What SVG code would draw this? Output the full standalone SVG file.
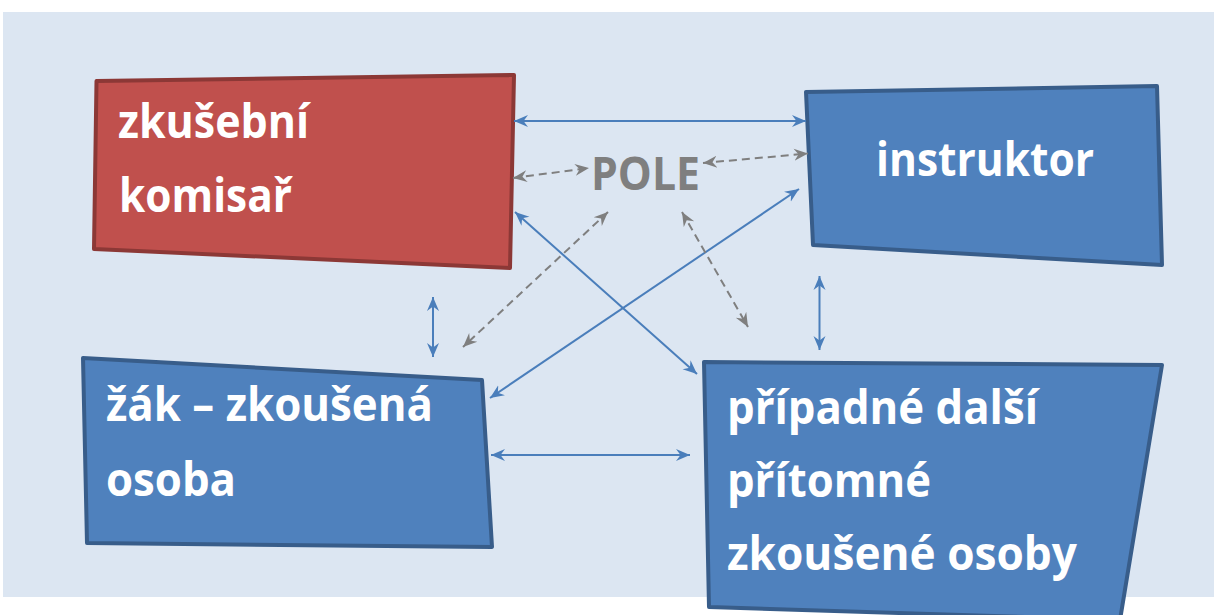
<svg xmlns="http://www.w3.org/2000/svg" width="1214" height="615" viewBox="0 0 1214 615">
<defs>
<style>
.lbl{font-family:"Open Sans","Noto Sans","Liberation Sans",sans-serif;font-weight:bold;font-size:46px;fill:#FFFFFF}
.pole{font-family:"Open Sans","Noto Sans","Liberation Sans",sans-serif;font-weight:bold;font-size:46px;fill:#7F7F7F}
.red{fill:#C0504D;stroke:#8C3836;stroke-width:4;stroke-linejoin:round}
.blue{fill:#4F81BD;stroke:#385D8A;stroke-width:4;stroke-linejoin:round}
.cb{stroke:#4A7EBB;stroke-width:2;fill:none;marker-start:url(#ab);marker-end:url(#ab)}
.cg{stroke:#7F7F7F;stroke-width:2;fill:none;stroke-dasharray:8 5;marker-start:url(#ag);marker-end:url(#ag)}
</style>
<marker id="ab" viewBox="-14 -7 15 14" refX="0" refY="0" markerWidth="15" markerHeight="14" markerUnits="userSpaceOnUse" orient="auto-start-reverse">
<path d="M0,0 L-14,-6 L-9.5,0 L-14,6 Z" fill="#4A7EBB"/>
</marker>
<marker id="ag" viewBox="-14 -7 15 14" refX="0" refY="0" markerWidth="15" markerHeight="14" markerUnits="userSpaceOnUse" orient="auto-start-reverse">
<path d="M0,0 L-14,-6 L-9.5,0 L-14,6 Z" fill="#7F7F7F"/>
</marker>
</defs>
<rect x="3" y="12" width="1211" height="585" fill="#DCE6F2"/>
<g id="node-komisar">
<polygon class="red" points="96.5,81 514,75 510,268 94,249"/>
<text class="lbl" x="118" y="138" textLength="191" lengthAdjust="spacingAndGlyphs">zkušební</text>
<text class="lbl" x="119" y="212" textLength="173" lengthAdjust="spacingAndGlyphs">komisař</text>
</g>
<g id="node-instruktor">
<polygon class="blue" points="806,92 1157,86 1162,265 813,245"/>
<text class="lbl" x="876" y="176" textLength="218" lengthAdjust="spacingAndGlyphs">instruktor</text>
</g>
<g id="node-zak">
<polygon class="blue" points="83,358 482,380 492,547 87,543"/>
<text class="lbl" x="106" y="421" textLength="327" lengthAdjust="spacingAndGlyphs">žák – zkoušená</text>
<text class="lbl" x="106" y="496" textLength="130" lengthAdjust="spacingAndGlyphs">osoba</text>
</g>
<g id="node-dalsi">
<polygon class="blue" points="704,362 1162,365 1120,620 709,607"/>
<text class="lbl" x="727" y="424" textLength="311" lengthAdjust="spacingAndGlyphs">případné další</text>
<text class="lbl" x="727" y="497" textLength="204" lengthAdjust="spacingAndGlyphs">přítomné</text>
<text class="lbl" x="727" y="570" textLength="350" lengthAdjust="spacingAndGlyphs">zkoušené osoby</text>
</g>
<g id="node-pole">
<text class="pole" x="591" y="190" textLength="109" lengthAdjust="spacingAndGlyphs">POLE</text>
</g>
<g id="connectors">
<line class="cb" x1="514" y1="121" x2="806" y2="121"/>
<line class="cb" x1="515" y1="212" x2="697" y2="374"/>
<line class="cb" x1="490" y1="398" x2="799" y2="189"/>
<line class="cb" x1="491" y1="455" x2="690" y2="455"/>
<line class="cb" x1="433" y1="297" x2="433" y2="357"/>
<line class="cb" x1="819.5" y1="276" x2="819.5" y2="350"/>
<line class="cg" x1="513" y1="178" x2="589" y2="168"/>
<line class="cg" x1="703" y1="163" x2="808" y2="153.5"/>
<line class="cg" x1="608" y1="212" x2="463" y2="347"/>
<line class="cg" x1="682" y1="212" x2="748" y2="327"/>
</g>
</svg>
